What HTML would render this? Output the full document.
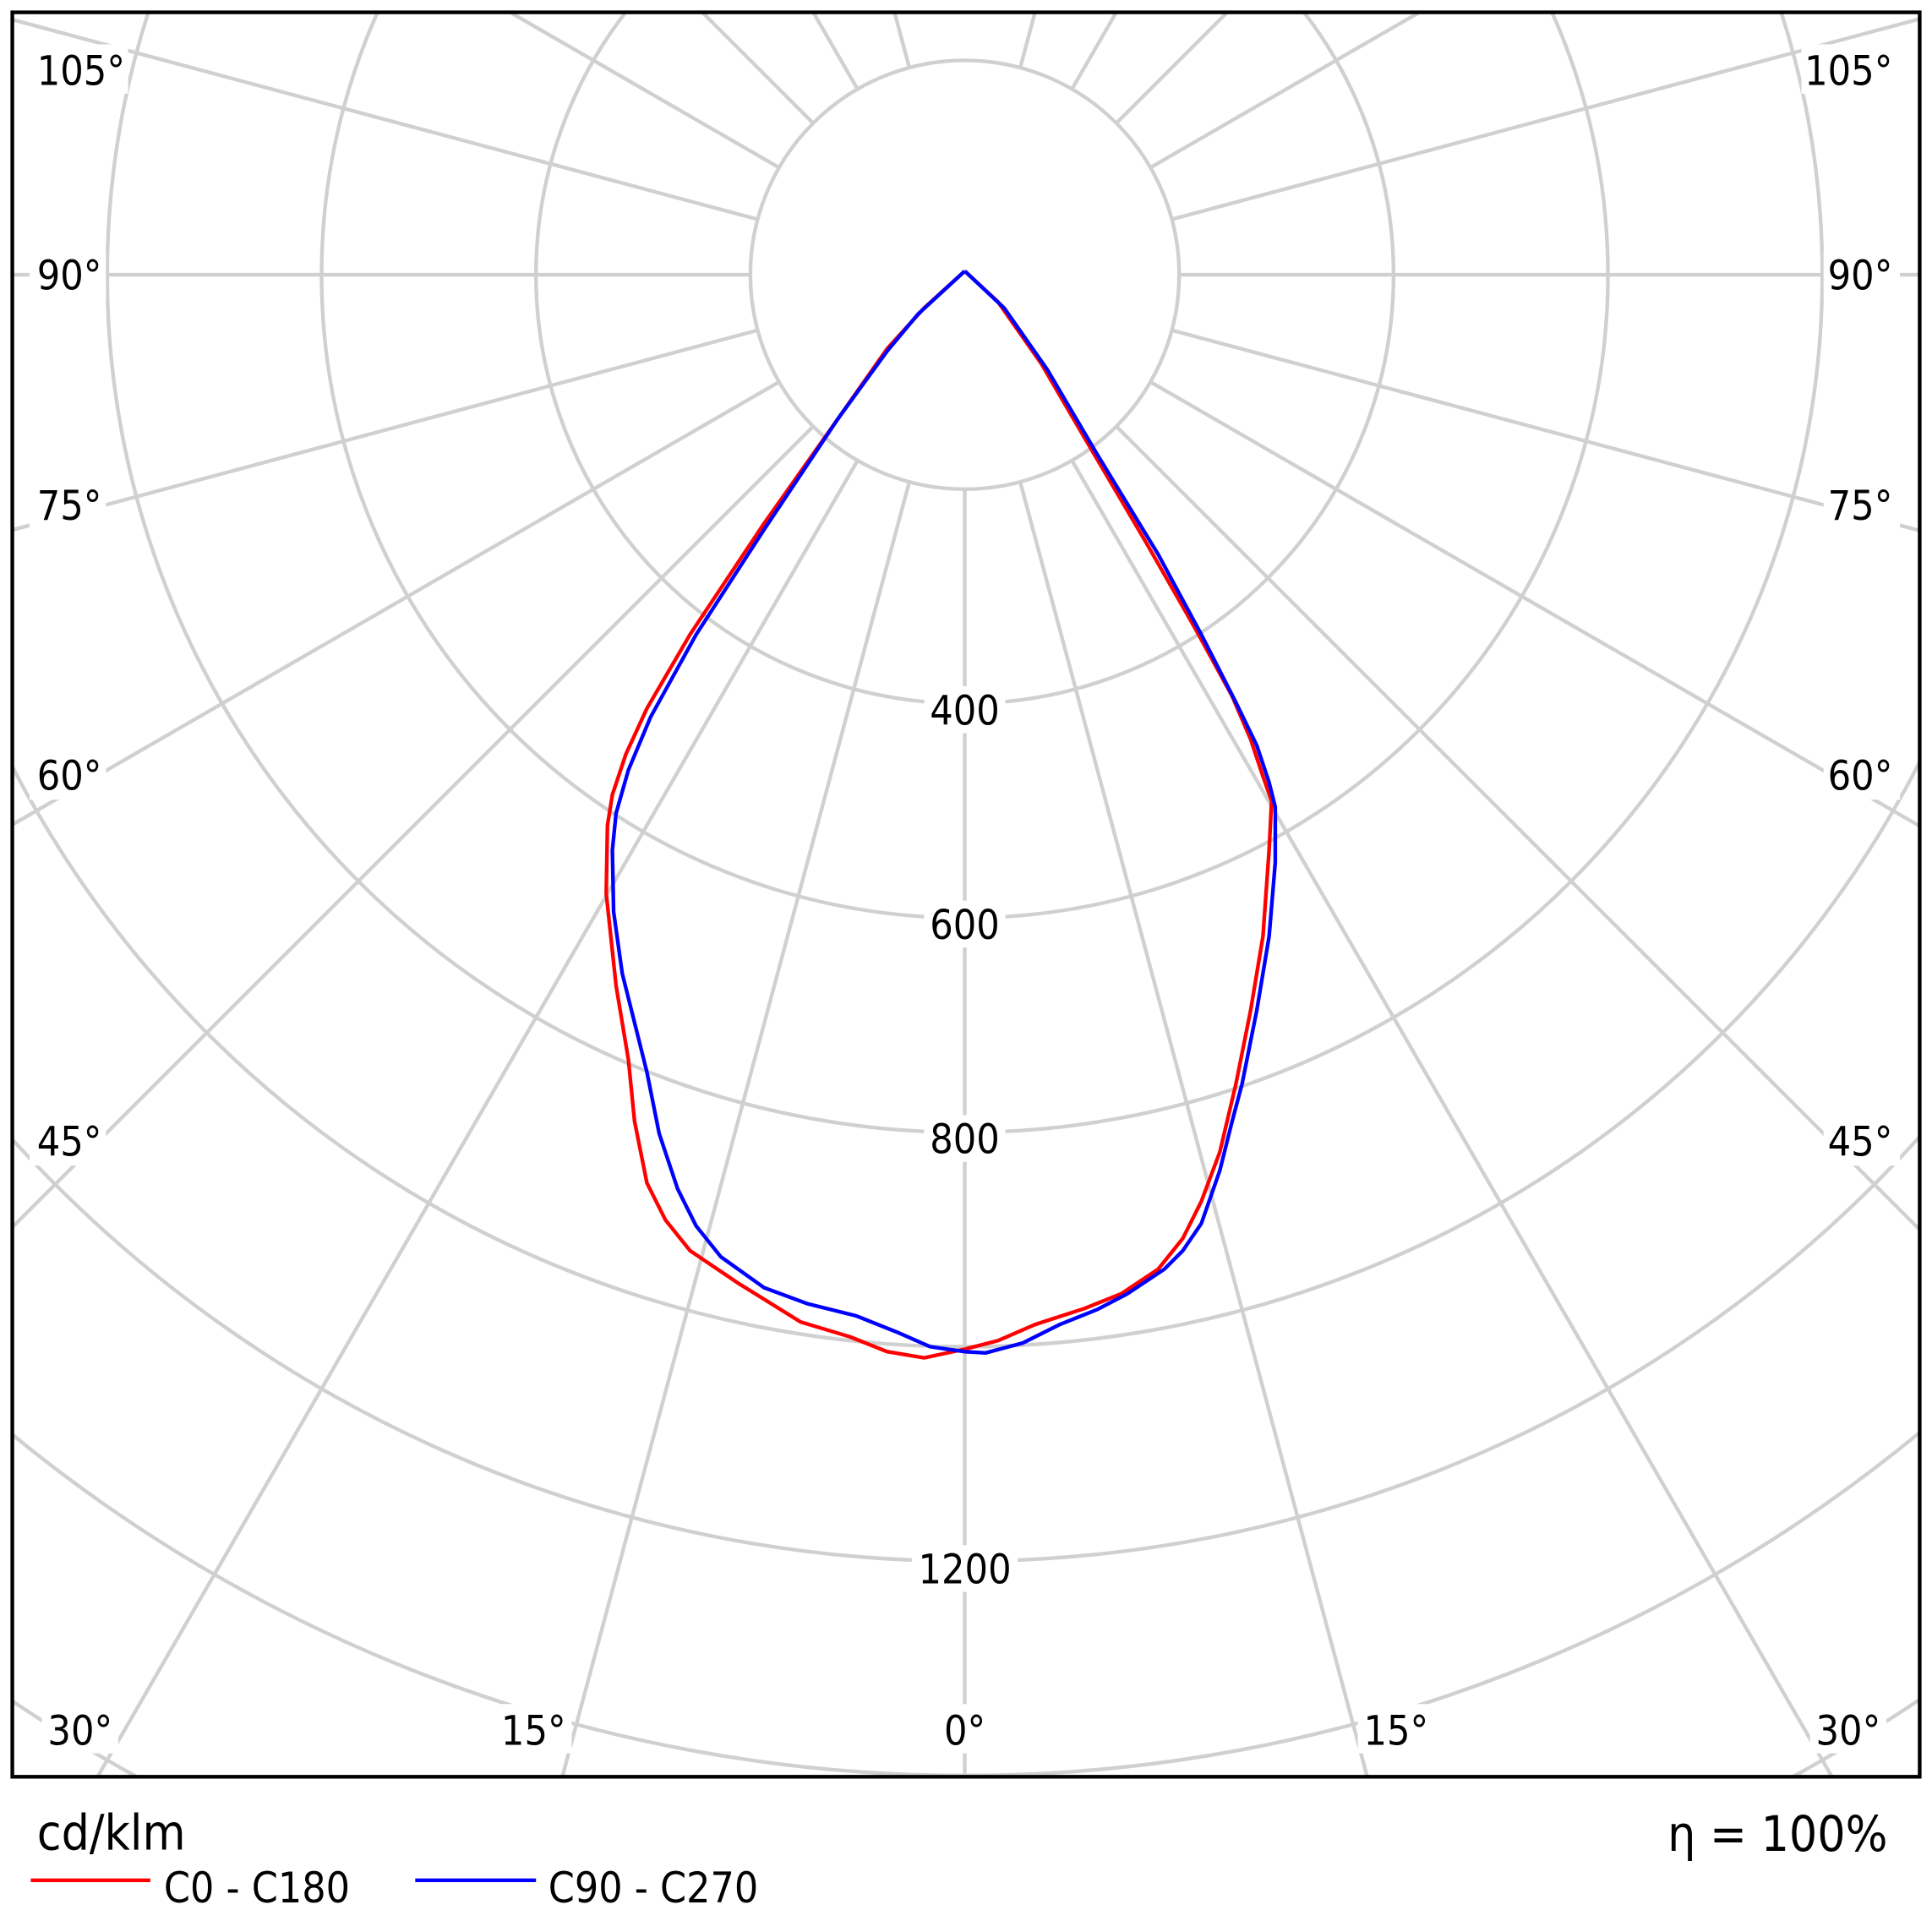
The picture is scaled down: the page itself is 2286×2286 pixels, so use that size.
<!DOCTYPE html>
<html><head><style>html,body{margin:0;padding:0;background:#fff;overflow:hidden;width:2286px;height:2286px}svg{display:block}</style></head>
<body>
<svg width="2286" height="2286" viewBox="0 0 1568 1568" xmlns="http://www.w3.org/2000/svg" font-family="'DejaVu Sans Condensed','DejaVu Sans','Liberation Sans',sans-serif" font-stretch="condensed">
<defs><clipPath id="c"><rect x="10" y="10" width="1548" height="1432"/></clipPath></defs>
<rect width="1568" height="1568" fill="#fff"/>
<g clip-path="url(#c)" stroke="#d0d0d0" stroke-width="3" fill="none">
<circle cx="783" cy="223" r="174"/><circle cx="783" cy="223" r="348"/><circle cx="783" cy="223" r="522"/>
<circle cx="783" cy="223" r="696"/><circle cx="783" cy="223" r="870"/><circle cx="783" cy="223" r="1044"/>
<circle cx="783" cy="223" r="1218"/><circle cx="783" cy="223" r="1392"/><circle cx="783" cy="223" r="1566"/>
<path d="M783,397L783,2223
M828,391.1L1300.6,2154.8 M738,391.1L265.4,2154.8
M870,373.7L1783,1955 M696,373.7L-217,1955
M906,346L2197,1637 M660,346L-631,1637
M933.7,310L2515,1223 M632.3,310L-949,1223
M951.1,268L2714.8,740.6 M614.9,268L-1148.8,740.6
M957,223L2783,223 M609,223L-1217,223
M951.1,178L2714.8,-294.6 M614.9,178L-1148.8,-294.6
M933.7,136L2515,-777 M632.3,136L-949,-777
M906,100L2197,-1191 M660,100L-631,-1191
M870,72.3L1783,-1509 M696,72.3L-217,-1509
M828,54.9L1300.6,-1708.8 M738,54.9L265.4,-1708.8"/>
</g>
<g fill="#fff">
<rect x="24" y="36" width="80" height="40"/><rect x="24" y="203" width="62" height="40"/><rect x="24" y="390" width="62" height="40"/><rect x="24" y="609" width="62" height="40"/><rect x="24" y="906" width="62" height="40"/>
<rect x="1462" y="36" width="80" height="40"/><rect x="1480" y="203" width="62" height="40"/><rect x="1480" y="390" width="62" height="40"/><rect x="1480" y="609" width="62" height="40"/><rect x="1480" y="906" width="62" height="40"/>
<rect x="34" y="1383" width="62" height="40"/><rect x="402" y="1383" width="62" height="40"/><rect x="762" y="1383" width="42" height="40"/><rect x="1102" y="1383" width="62" height="40"/><rect x="1469" y="1383" width="62" height="40"/>
<rect x="750" y="557" width="66" height="38"/><rect x="750" y="731" width="66" height="38"/><rect x="750" y="905" width="66" height="38"/><rect x="740" y="1254" width="86" height="38"/>
</g>
<g font-size="33" fill="#000" text-anchor="middle">
<text x="783" y="588">400</text>
<text x="783" y="762">600</text>
<text x="783" y="936">800</text>
<text x="783" y="1285">1200</text>
<text x="65" y="1416">30°</text><text x="433" y="1416">15°</text><text x="783" y="1416">0°</text>
<text x="1133" y="1416">15°</text><text x="1500" y="1416">30°</text>
</g>
<g font-size="33" fill="#000">
<text x="30" y="69">105°</text><text x="30" y="235">90°</text><text x="30" y="422">75°</text><text x="30" y="641">60°</text><text x="30" y="938">45°</text>
</g>
<g font-size="33" fill="#000" text-anchor="end">
<text x="1536" y="69">105°</text><text x="1536" y="235">90°</text><text x="1536" y="422">75°</text><text x="1536" y="641">60°</text><text x="1536" y="938">45°</text>
</g>
<path fill="none" stroke="#f00" stroke-width="3" stroke-linejoin="round" d="M783,220 L750,250 L720,283 L680,340 L620,425 L560,515 L525,575 L508,612 L497,645 L493,670 L492,725 L500,800 L510,860 L515,910 L525,960 L540,990 L560,1015 L600,1042 L650,1073 L690,1085 L720,1097 L750,1102 L783,1095 L810,1088 L840,1075 L880,1062 L910,1050 L940,1030 L960,1005 L975,975 L990,935 L1003,880 L1015,820 L1025,760 L1030,690 L1032,650 L1025,630 L1015,600 L1000,565 L970,510 L930,440 L880,355 L845,295 L810,245 L783,220"/>
<path fill="none" stroke="#00f" stroke-width="3" stroke-linejoin="round" d="M783,220 L745,255 L720,285 L680,340 L620,430 L565,515 L528,582 L510,625 L500,660 L497,690 L498,740 L505,790 L515,830 L525,870 L535,920 L550,965 L565,995 L585,1020 L620,1045 L655,1058 L695,1068 L730,1082 L755,1093 L783,1097 L800,1098 L830,1090 L860,1075 L890,1063 L915,1050 L945,1030 L960,1015 L975,993 L990,950 L1000,910 L1008,880 L1020,820 L1030,760 L1035,700 L1035,655 L1030,635 L1020,605 L1003,570 L975,515 L940,450 L890,368 L850,300 L815,250 L783,220"/>
<rect x="10" y="10" width="1548" height="1432" fill="none" stroke="#000" stroke-width="3"/>
<text x="30" y="1501" font-size="40">cd/klm</text>
<text x="1532" y="1502" font-size="40" text-anchor="end">η = 100%</text>
<line x1="25" y1="1526" x2="122" y2="1526" stroke="#f00" stroke-width="3"/>
<text x="133" y="1544" font-size="34">C0 - C180</text>
<line x1="337" y1="1526" x2="435" y2="1526" stroke="#00f" stroke-width="3"/>
<text x="445" y="1544" font-size="34">C90 - C270</text>
</svg>
</body></html>
